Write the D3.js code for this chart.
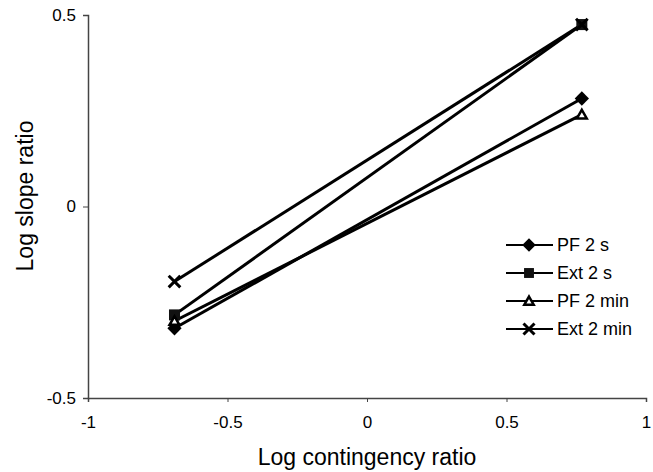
<!DOCTYPE html>
<html>
<head>
<meta charset="utf-8">
<script src="https://cdn.jsdelivr.net/npm/d3@7"></script>
<style>
  body { margin: 0; background: #fff; }
  text { font-family: Arial, "Liberation Sans", sans-serif; fill: #000; }
</style>
</head>
<body>
<div id="chart"></div>
<script>
const WIDTH = 653;
const HEIGHT = 472;

// log contingency ratio for the two conditions
const xValues = [-0.69, 0.77];
const seriesNames = ["PF 2 s", "Ext 2 s", "PF 2 min", "Ext 2 min"];
const pf2s = [-0.318, 0.282];
const ext2s = [-0.283, 0.475];
const pf2min = [-0.299, 0.240];
const ext2min = [-0.196, 0.475];
const xTicks = [-1, -0.5, 0, 0.5, 1];
const yTicks = [-0.5, 0, 0.5];

const series = [
    {name: seriesNames[0], values: pf2s, marker: "diamond"},
    {name: seriesNames[1], values: ext2s, marker: "square"},
    {name: seriesNames[2], values: pf2min, marker: "triangle"},
    {name: seriesNames[3], values: ext2min, marker: "cross"}
];

let svg = d3.select("#chart")
    .append("svg")
    .attr("width", WIDTH)
    .attr("height", HEIGHT);

let x = d3.scaleLinear().domain([-1, 1]).range([88, 646]);
let y = d3.scaleLinear().domain([-0.5, 0.5]).range([398, 15]);

// axes
let xAxis = svg.append("g")
    .attr("transform", `translate(0, ${y(-0.5)})`)
    .call(d3.axisBottom(x).tickValues(xTicks).tickSize(4).tickPadding(14)
        .tickFormat(d => String(d)));

let yAxis = svg.append("g")
    .attr("transform", `translate(${x(-1)}, 0)`)
    .call(d3.axisLeft(y).tickValues(yTicks).tickSize(5).tickPadding(7)
        .tickFormat(d => String(d)));

[xAxis, yAxis].forEach(a => {
    a.select(".domain").attr("stroke", "#444").attr("stroke-width", 1.5);
    a.selectAll(".tick line").attr("stroke", "#444");
    a.selectAll(".tick text").style("font-size", "17px").attr("fill", "#000");
});

svg.append("text")
    .attr("x", x(0))
    .attr("y", 465)
    .attr("text-anchor", "middle")
    .style("font-size", "23px")
    .text("Log contingency ratio");

svg.append("text")
    .attr("transform", `translate(33, 196) rotate(-90)`)
    .attr("text-anchor", "middle")
    .style("font-size", "23px")
    .text("Log slope ratio");

function drawMarker(g, type, cx, cy, big) {
    let s = big ? 1 : 0.9;
    if (type === "diamond") {
        g.append("path")
            .attr("d", d3.symbol(d3.symbolDiamond2, 130 * s)())
            .attr("transform", `translate(${cx},${cy})`)
            .attr("fill", "#000");
    } else if (type === "square") {
        g.append("rect")
            .attr("x", cx - 5.5 * s).attr("y", cy - 5.5 * s)
            .attr("width", 11 * s).attr("height", 11 * s)
            .attr("fill", "#111");
    } else if (type === "triangle") {
        g.append("path")
            .attr("d", d3.symbol(d3.symbolTriangle2, 70 * s)())
            .attr("transform", `translate(${cx},${cy + 1})`)
            .attr("fill", "#fff")
            .attr("stroke", "#000")
            .attr("stroke-width", 2.5);
    } else {
        g.append("path")
            .attr("d", d3.symbol(d3.symbolX, 90 * s)())
            .attr("transform", `translate(${cx},${cy})`)
            .attr("fill", "none")
            .attr("stroke", "#000")
            .attr("stroke-width", 3);
    }
}

let line = d3.line()
    .x((d, i) => x(xValues[i]))
    .y(d => y(d));

let plot = svg.append("g");

series.forEach(s => {
    plot.append("path")
        .datum(s.values)
        .attr("d", line)
        .attr("fill", "none")
        .attr("stroke", "#000")
        .attr("stroke-width", 3);
});

series.forEach(s => {
    s.values.forEach((v, i) => drawMarker(plot, s.marker, x(xValues[i]), y(v), true));
});

// legend
let legend = svg.append("g").attr("class", "legend");
series.forEach((s, i) => {
    let ly = 245 + i * 28;
    legend.append("line")
        .attr("x1", 506).attr("x2", 553)
        .attr("y1", ly).attr("y2", ly)
        .attr("stroke", "#000")
        .attr("stroke-width", 2);
    drawMarker(legend, s.marker, 529, ly, false);
    legend.append("text")
        .attr("x", 557)
        .attr("y", ly)
        .attr("dy", "0.35em")
        .style("font-size", "18px")
        .text(s.name);
});
</script>
</body>
</html>
